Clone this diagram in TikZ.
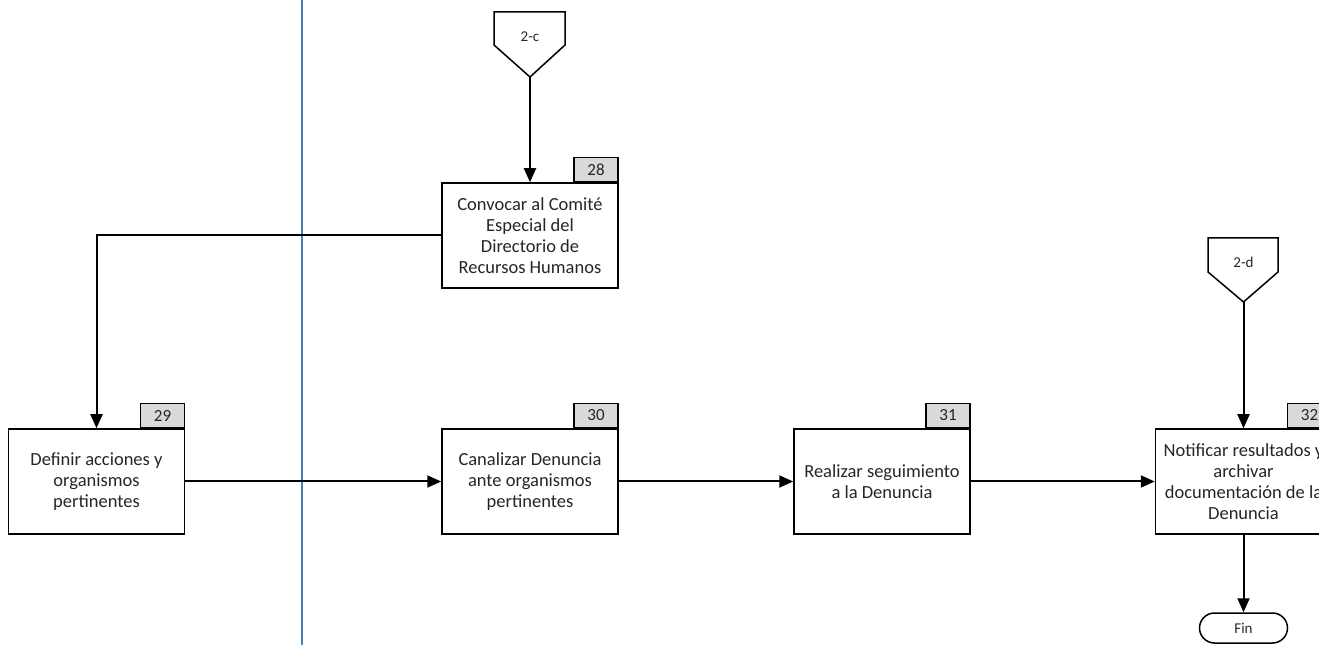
\documentclass[tikz,border=0pt]{standalone}
\usepackage{fontspec}
\setmainfont{Carlito}
\usepackage{tikz}
\usetikzlibrary{positioning,arrows.meta}
\definecolor{tabgray}{HTML}{D9D9D9}
\definecolor{laneblue}{HTML}{4A7EBB}
\definecolor{inkgray}{HTML}{262626}

\begin{document}
\begin{tikzpicture}[x=1pt, y=1pt, line width=2pt, >={Triangle[length=14pt,width=12pt]},
	task/.style={rectangle, draw, line width=1.5pt, fill=white, text=inkgray, minimum width=176pt, minimum height=105pt, align=center, inner sep=1pt, font=\fontsize{18.5}{21}\selectfont},
	tab/.style={rectangle, draw, line width=1.5pt, fill=tabgray, text=inkgray, minimum width=44pt, minimum height=24pt, inner sep=0pt, font=\fontsize{17}{18}\selectfont},
	offpage/.style={draw, line width=1.5pt, fill=white},
	lbl/.style={inner sep=0pt, text=inkgray, font=\fontsize{15}{16}\selectfont},
	term/.style={rectangle, draw, line width=1.5pt, rounded corners=15pt, text=inkgray, minimum width=88pt, minimum height=30pt, font=\fontsize{15}{16}\selectfont}]
	\useasboundingbox (0,0) rectangle (1319,645);
	\clip (0,0) rectangle (1319,645);
	
	% lane separator
	\draw [laneblue, line width=1.4pt] (302,0) -- (302,645);
	
	% off-page connectors
	\draw [offpage] (494,633) -- (565,633) -- (565,600) -- (530,568) coordinate (c2c) -- (494,600) -- cycle;
	\node [lbl] (c2clbl) at (530,608) {2-c};
	\draw [offpage] (1208,407) -- (1278,407) -- (1278,373) -- (1243.5,343) coordinate (c2d) -- (1208,373) -- cycle;
	\node [lbl] (c2dlbl) at (1243.5,383) {2-d};
	
	% tasks
	\node [task] (b28) at (530,409.5) {Convocar al Comité\\Especial del\\Directorio de\\Recursos Humanos};
	\node [task] (b29) at (96.5,163.5) {Definir acciones y\\organismos\\pertinentes};
	\node [task] (b30) at (530,163.5) {Canalizar Denuncia\\ante organismos\\pertinentes};
	\node [task] (b31) at (882,163.5) {Realizar seguimiento\\a la Denuncia};
	\node [task] (b32) at (1243.5,163.5) {Notificar resultados y\\archivar\\documentación de la\\Denuncia};
	
	\node [tab] (t28) [above left=0pt of b28.north east] {28};
	\node [tab] (t29) [above left=0pt of b29.north east] {29};
	\node [tab] (t30) [above left=0pt of b30.north east] {30};
	\node [tab] (t31) [above left=0pt of b31.north east] {31};
	\node [tab] (t32) [above left=0pt of b32.north east] {32};
	
	\node [term] (fin) at (1243.5,17) {Fin};
	
	% flow
	\draw [->] (c2c) -- (b28.north);
	\draw [->] (b28.west) -| (b29.north);
	\draw [->] (b29) -- (b30);
	\draw [->] (b30) -- (b31);
	\draw [->] (b31) -- (b32);
	\draw [->] (c2d) -- (b32.north);
	\draw [->] (b32) -- (fin);
\end{tikzpicture}
\end{document}
